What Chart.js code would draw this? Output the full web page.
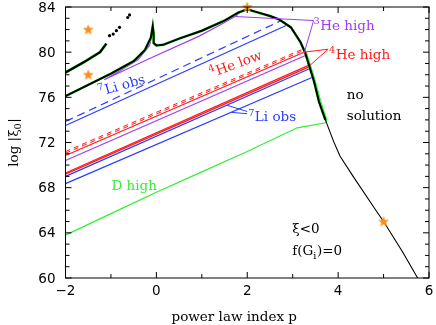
<!DOCTYPE html>
<html>
<head>
<meta charset="utf-8">
<script src="https://cdn.jsdelivr.net/npm/chart.js@4/dist/chart.umd.min.js"></script>
<style>
  html, body { margin: 0; padding: 0; background: #fff; }
</style>
</head>
<body>
<canvas id="c" width="436" height="325"></canvas>
<script>
// boundary of the allowed region (black)
const edgeX = [-2, -1.5, -1.0, -0.5, -0.25, -0.12, -0.08, -0.06, -0.06, 0.0, 0.15, 0.5, 1.0, 1.5, 1.8, 2.0, 2.25, 2.5, 2.7, 2.96, 3.17, 3.27, 3.36, 3.47, 3.58, 3.72];
const edgeY = [76.1, 77.1, 78.1, 79.2, 80.2, 81.3, 82.3, 81.6, 80.8, 80.6, 80.65, 81.2, 81.9, 82.8, 83.5, 83.8, 83.5, 83.2, 82.9, 82.2, 80.9, 80.0, 78.85, 77.4, 75.6, 74.0];
const tailX = [3.72, 3.9, 4.04, 4.33, 4.83, 5.0, 5.42, 5.75];
const tailY = [74.0, 72.1, 70.8, 69.0, 66.0, 65.0, 62.3, 60.0];

// second (upper left) branch and its scattered points
const branchX = [-2, -1.6, -1.24, -1.1];
const branchY = [78.2, 79.1, 80.0, 80.75];
const dotX = [-1.03, -0.95, -0.88, -0.81, -0.63, -0.59];
const dotY = [81.46, 81.6, 81.9, 82.2, 83.07, 83.3];

// constraint contours
const he3LoopX = [-0.08, -0.15, -0.4, -0.8, -1.15, -0.16, 0.93, 1.4, 1.75, 1.85];
const he3LoopY = [81.8, 80.6, 79.35, 78.35, 77.55, 79.41, 81.4, 82.4, 83.2, 83.55];
const li7DashX = [-2, 2.75], li7DashY = [73.86, 82.8];
const li7TopX = [-2, 2.88], li7TopY = [73.5, 82.4];
const he4LowDashAX = [-2, 3.24], he4LowDashAY = [71.2, 80.3];
const he4LowDashBX = [-2, 3.25], he4LowDashBY = [71.05, 80.17];
const he4LowX = [-2, 3.26], he4LowY = [70.85, 80.02];
const he3MidX = [-2, 3.28], he3MidY = [70.4, 79.7];
const he4HighAX = [-2, 3.36], he4HighAY = [69.3, 78.85];
const he4HighBX = [-2, 3.37], he4HighBY = [69.2, 78.72];
const li7MidX = [-2, 3.38], li7MidY = [69.0, 78.55];
const li7LowX = [-2, 3.45], li7LowY = [68.36, 77.8];
const dHighX = [-2, -1, 0, 1, 2, 3.1, 3.72, 3.75, 3.62, 3.5, 3.39, 3.3];
const dHighY = [63.8, 65.7, 67.6, 69.4, 71.2, 73.3, 73.75, 74.0, 75.6, 77.4, 78.85, 80.0];

// special points
const starX = [-1.5, -1.5, 2, 5];
const starY = [82, 78, 84, 65];

const BLUE = '#2a3cff', RED = '#ff1a1a', PURPLE = '#9f3cf0', GREEN = '#33ee33', ORANGE = '#ff8c1a';
const SERIF = '"DejaVu Serif"';

const pts = (xs, ys) => xs.map((x, i) => ({ x, y: ys[i] }));
const line = (xs, ys, color, width, dash) => ({
  data: pts(xs, ys), showLine: true, borderColor: color, borderWidth: width || 1.2,
  borderDash: dash || [], pointRadius: 0, fill: false, tension: 0
});

// orange five pointed star used as point style
const star = document.createElement('canvas');
star.width = 12; star.height = 12;
(function () {
  const g = star.getContext('2d');
  g.fillStyle = ORANGE;
  g.beginPath();
  for (let i = 0; i < 10; i++) {
    const r = i % 2 ? 2.4 : 5.8;
    const a = -Math.PI / 2 + i * Math.PI / 5;
    g.lineTo(6 + r * Math.cos(a), 6.3 + r * Math.sin(a));
  }
  g.closePath();
  g.fill();
})();

const notes = [
  { x: 3.46, y: 81.97, color: PURPLE, parts: [['3', 'sup'], ['He high', 'n']] },
  { x: 3.80, y: 79.39, color: RED, parts: [['4', 'sup'], ['He high', 'n']] },
  { x: 1.21, y: 77.75, color: RED, angle: -20, parts: [['4', 'sup'], ['He low', 'n']] },
  { x: -1.245, y: 76.1, color: BLUE, angle: -16, parts: [['7', 'sup'], ['Li obs', 'n']] },
  { x: 2.02, y: 73.86, color: BLUE, parts: [['7', 'sup'], ['Li obs', 'n']] },
  { x: 4.19, y: 75.88, color: '#000', parts: [['no', 'n']] },
  { x: 4.19, y: 73.95, color: '#000', parts: [['solution', 'n']] },
  { x: -0.99, y: 67.76, color: GREEN, parts: [['D high', 'n']] },
  { x: 2.99, y: 63.99, color: '#000', parts: [['\u03be<0', 'n']] },
  { x: 2.99, y: 62.02, color: '#000', parts: [['f(G', 'n'], ['i', 'sub'], [')=0', 'n']] }
];
const pointers = [
  { color: PURPLE, from: [3.46, 82.8], to: [1.73, 83.16] },
  { color: PURPLE, from: [3.46, 82.8], to: [3.25, 79.9] },
  { color: RED, from: [3.78, 80.26], to: [3.25, 80.0] },
  { color: RED, from: [3.78, 80.26], to: [3.38, 78.83] },
  { color: BLUE, from: [2.0, 74.75], to: [1.55, 75.3] },
  { color: BLUE, from: [2.0, 74.55], to: [1.65, 74.67] }
];

function drawParts(ctx, parts, size) {
  let cx = 0;
  parts.forEach(([t, kind]) => {
    const small = kind !== 'n';
    ctx.font = (small ? size * 0.72 : size) + 'px ' + SERIF;
    const dy = kind === 'sup' ? -size * 0.42 : kind === 'sub' ? size * 0.25 : 0;
    ctx.fillText(t, cx, dy);
    cx += ctx.measureText(t).width + (small ? 0.5 : 0);
  });
  return cx;
}
function partsWidth(ctx, parts, size) {
  let w = 0;
  parts.forEach(([t, kind]) => {
    const small = kind !== 'n';
    ctx.font = (small ? size * 0.72 : size) + 'px ' + SERIF;
    w += ctx.measureText(t).width + (small ? 0.5 : 0);
  });
  return w;
}

const decor = {
  id: 'decor',
  afterDatasetsDraw(chart) {
    const { ctx, chartArea: a, scales: { x, y } } = chart;
    ctx.save();
    ctx.strokeStyle = '#000';
    ctx.lineWidth = 1;
    ctx.strokeRect(a.left, a.top, a.right - a.left, a.bottom - a.top);
    ctx.beginPath();
    for (let v = x.min; v <= x.max; v++) {
      const px = x.getPixelForValue(v), len = v % 2 === 0 ? 6 : 4;
      ctx.moveTo(px, a.bottom); ctx.lineTo(px, a.bottom - len);
      ctx.moveTo(px, a.top); ctx.lineTo(px, a.top + len);
    }
    for (let v = y.min; v <= y.max; v++) {
      const py = y.getPixelForValue(v), len = v % 4 === 0 ? 6 : 4;
      ctx.moveTo(a.left, py); ctx.lineTo(a.left + len, py);
      ctx.moveTo(a.right, py); ctx.lineTo(a.right - len, py);
    }
    ctx.stroke();

    pointers.forEach(p => {
      ctx.strokeStyle = p.color;
      ctx.lineWidth = 1;
      ctx.beginPath();
      ctx.moveTo(x.getPixelForValue(p.from[0]), y.getPixelForValue(p.from[1]));
      ctx.lineTo(x.getPixelForValue(p.to[0]), y.getPixelForValue(p.to[1]));
      ctx.stroke();
    });

    ctx.textBaseline = 'alphabetic';
    ctx.textAlign = 'left';
    notes.forEach(n => {
      ctx.save();
      ctx.fillStyle = n.color;
      ctx.translate(x.getPixelForValue(n.x), y.getPixelForValue(n.y));
      if (n.angle) ctx.rotate(n.angle * Math.PI / 180);
      drawParts(ctx, n.parts, 13.5);
      ctx.restore();
    });

    // axis titles
    ctx.fillStyle = '#000';
    ctx.font = '13.5px ' + SERIF;
    ctx.fillText('power law index p', 171.5, a.bottom + 43);
    const yt = [['log |\u03be', 'n'], ['0', 'sub'], ['|', 'n']];
    ctx.save();
    ctx.translate(a.left - 47.5, (a.top + a.bottom) / 2);
    ctx.rotate(-Math.PI / 2);
    ctx.translate(-partsWidth(ctx, yt, 13.5) / 2, 0);
    drawParts(ctx, yt, 13.5);
    ctx.restore();
    ctx.restore();
  }
};

const noPad = s => { s.paddingTop = 0; s.paddingBottom = 0; s.paddingLeft = 0; s.paddingRight = 0; };

new Chart(document.getElementById('c'), {
  type: 'scatter',
  data: {
    datasets: [
      { data: pts(starX, starY), pointStyle: star, pointRadius: 6, showLine: false, clip: false },
      { data: pts(dotX, dotY), showLine: false, pointRadius: 1.6, pointBackgroundColor: '#000', pointBorderWidth: 0 },
      line(edgeX, edgeY, '#000', 2),
      line(tailX, tailY, '#000', 1.1),
      line(branchX, branchY, '#000', 2.2),
      line(edgeX, edgeY, GREEN, 2.6),
      line(branchX, branchY, GREEN, 3),
      line(he3LoopX, he3LoopY, PURPLE),
      line(li7DashX, li7DashY, BLUE, 1.2, [8, 5]),
      line(li7TopX, li7TopY, BLUE),
      line(he4LowDashAX, he4LowDashAY, RED, 1, [5, 4]),
      line(he4LowDashBX, he4LowDashBY, RED, 1, [5, 4]),
      line(he4LowX, he4LowY, RED),
      line(he3MidX, he3MidY, PURPLE),
      line(he4HighAX, he4HighAY, RED),
      line(he4HighBX, he4HighBY, RED),
      line(li7MidX, li7MidY, BLUE),
      line(li7LowX, li7LowY, BLUE),
      line(dHighX, dHighY, GREEN)
    ]
  },
  options: {
    responsive: false,
    animation: false,
    devicePixelRatio: 1,
    layout: { padding: { top: 4, right: 3, left: 0, bottom: 0 } },
    plugins: { legend: { display: false }, tooltip: { enabled: false } },
    scales: {
      x: {
        type: 'linear', min: -2, max: 6,
        ticks: { stepSize: 2, padding: 5, color: '#000', font: { family: 'DejaVu Sans', size: 13.5 },
                 callback: v => String(v).replace('-', '\u2212') },
        grid: { display: false, drawTicks: false },
        border: { display: false },
        afterFit: s => { s.height = 47; noPad(s); }
      },
      y: {
        min: 60, max: 84,
        ticks: { stepSize: 4, padding: 10, labelOffset: 1, color: '#000', font: { family: 'DejaVu Sans', size: 13.5 } },
        grid: { display: false, drawTicks: false },
        border: { display: false },
        afterFit: s => { s.width = 65.5; noPad(s); }
      }
    }
  },
  plugins: [decor]
});
</script>
</body>
</html>
